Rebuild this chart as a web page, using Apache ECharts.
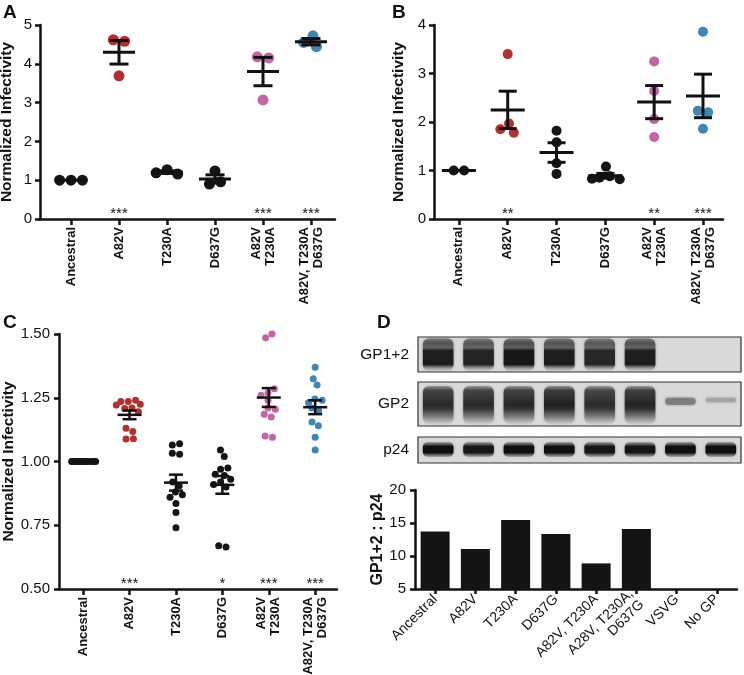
<!DOCTYPE html>
<html><head><meta charset="utf-8">
<script src="https://cdn.jsdelivr.net/npm/echarts@6/dist/echarts.min.js"></script>
<style>html,body{margin:0;padding:0;background:#fff}#c{width:744px;height:675px}</style>
</head><body><div id="c"></div>
<script>
// ---------- data ----------
const groupsABC = ['Ancestral', 'A82V', 'T230A', 'D637G', 'A82V\nT230A', 'A82V, T230A\nD637G'];
const groupColors = ['#151515', '#b3302e', '#151515', '#151515', '#c564a2', '#3f86b8'];

// Panel A
const aAncestral = [1.00, 1.00, 1.00];
const aA82V = [4.62, 4.58, 3.69];
const aT230A = [1.27, 1.16, 1.19];
const aD637G = [1.24, 0.90, 0.96];
const aA82VT230A = [4.18, 4.15, 3.07];
const aTriple = [4.72, 4.44, 4.55];
const starsA = ['', '***', '', '', '***', '***'];

// Panel B
const bAncestral = [1.00, 1.00];
const bA82V = [3.40, 1.97, 1.78, 1.85];
const bT230A = [1.82, 1.58, 1.15, 0.93];
const bD637G = [1.08, 0.88, 0.85, 0.82, 0.83];
const bA82VT230A = [3.25, 2.64, 2.06, 1.69];
const bTriple = [3.86, 2.23, 2.20, 1.86];
const starsB = ['', '**', '', '', '**', '***'];

// Panel C
const cAncestral = [1, 1, 1, 1, 1, 1, 1, 1, 1, 1, 1, 1];
const cA82V = [1.235, 1.24, 1.235, 1.225, 1.222, 1.21, 1.208, 1.195, 1.13, 1.118, 1.088, 1.089];
const cT230A = [1.065, 1.07, 1.032, 1.028, 0.92, 0.905, 0.88, 0.87, 0.86, 0.835, 0.80, 0.74];
const cD637G = [1.045, 1.02, 0.97, 0.975, 0.95, 0.945, 0.93, 0.92, 0.91, 0.90, 0.67, 0.665];
const cA82VT230A = [1.485, 1.50, 1.27, 1.285, 1.26, 1.24, 1.21, 1.205, 1.185, 1.175, 1.10, 1.095];
const cTriple = [1.37, 1.325, 1.30, 1.245, 1.24, 1.23, 1.21, 1.20, 1.155, 1.14, 1.095, 1.045];
const starsC = ['', '***', '', '*', '***', '***'];

// Panel D
const lanesD = ['Ancestral', 'A82V', 'T230A', 'D637G', 'A82V, T230A', 'A28V, T230A,\nD637G', 'VSVG', 'No GP'];
const ratioD = [13.73, 11.06, 15.45, 13.33, 8.88, 14.09, 0, 0];
const blotGP12 = [0.95, 0.9, 1.0, 0.95, 0.88, 0.95, 0, 0];
const blotGP2 = [0.92, 0.92, 0.94, 1.0, 0.9, 0.96, 0.4, 0.18];
const blotP24 = [1, 0.95, 1, 1, 0.95, 0.95, 1, 1];

const panelA = [aAncestral, aA82V, aT230A, aD637G, aA82VT230A, aTriple];
const panelB = [bAncestral, bA82V, bT230A, bD637G, bA82VT230A, bTriple];
const panelC = [cAncestral, cA82V, cT230A, cD637G, cA82VT230A, cTriple];

// ---------- helpers ----------
const FONT = 'Liberation Sans';
const INK = '#111';

function swarm(ys, d, maxHalf) {
  const xs = [];
  for (let i = 0; i < ys.length; i++) {
    const cands = [0];
    for (let j = 0; j < i; j++) {
      const dy = Math.abs(ys[i] - ys[j]);
      if (dy < d) { const dx = Math.sqrt(d * d - dy * dy); cands.push(xs[j] + dx + 0.01, xs[j] - dx - 0.01); }
    }
    cands.sort((a, b) => Math.abs(a) - Math.abs(b));
    let best = null;
    for (const c of cands) {
      if (Math.abs(c) > maxHalf) continue;
      let ok = true;
      for (let j = 0; j < i; j++) {
        const dx = c - xs[j], dy = ys[i] - ys[j];
        if (dx * dx + dy * dy < d * d - 0.1) { ok = false; break; }
      }
      if (ok) { best = c; break; }
    }
    if (best === null) {
      let bestScore = -1;
      for (let s = -maxHalf; s <= maxHalf + 1e-6; s += maxHalf / 6) {
        let m = Infinity;
        for (let j = 0; j < i; j++) { const dx = s - xs[j], dy = ys[i] - ys[j]; m = Math.min(m, dx * dx + dy * dy); }
        if (m > bestScore) { bestScore = m; best = s; }
      }
    }
    xs.push(best);
  }
  // centre touching clusters
  const n = ys.length, comp = new Array(n).fill(-1); let c = 0;
  for (let i = 0; i < n; i++) {
    if (comp[i] >= 0) continue;
    const st = [i]; comp[i] = c;
    while (st.length) {
      const a = st.pop();
      for (let b = 0; b < n; b++) {
        if (comp[b] < 0) {
          const dx = xs[a] - xs[b], dy = ys[a] - ys[b];
          if (dx * dx + dy * dy < d * d * 1.2) { comp[b] = c; st.push(b); }
        }
      }
    }
    c++;
  }
  for (let k = 0; k < c; k++) {
    const idx = []; for (let i = 0; i < n; i++) if (comp[i] === k) idx.push(i);
    const m = idx.reduce((s, i) => s + xs[i], 0) / idx.length;
    idx.forEach(i => { xs[i] -= m; });
  }
  return xs;
}

function meanSem(vals) {
  const n = vals.length, m = vals.reduce((a, b) => a + b, 0) / n;
  if (n < 2) return [m, 0];
  const v = vals.reduce((a, b) => a + (b - m) * (b - m), 0) / (n - 1);
  return [m, Math.sqrt(v / n)];
}

function pointSeries(groups, axisIdx, r, maxHalf) {
  const data = [];
  groups.forEach((vals, g) => vals.forEach((v, k) => data.push([g, v, k])));
  return {
    type: 'custom', xAxisIndex: axisIdx, yAxisIndex: axisIdx, data, z: 3,
    renderItem(params, api) {
      const g = api.value(0), k = api.value(2);
      const pts = groups[g].map(v => api.coord([g, v]));
      const offs = swarm(pts.map(p => p[1]), 2 * r + 0.4, maxHalf);
      const p = pts[k];
      return { type: 'circle', shape: { cx: p[0] + offs[k], cy: p[1], r }, style: { fill: groupColors[g] } };
    }
  };
}

function errSeries(groups, stars, axisIdx, yMin, halfMean, halfCap, lw) {
  return {
    type: 'custom', xAxisIndex: axisIdx, yAxisIndex: axisIdx, z: 5,
    data: groups.map((v, g) => [g, v.length]),
    renderItem(params, api) {
      const g = api.value(0);
      const [m, s] = meanSem(groups[g]);
      const pm = api.coord([g, m]), pt = api.coord([g, m + s]), pb = api.coord([g, m - s]);
      const base = api.coord([g, yMin]);
      const ls = { stroke: INK, lineWidth: lw };
      const ch = [
        { type: 'line', shape: { x1: pm[0] - halfMean, y1: pm[1], x2: pm[0] + halfMean, y2: pm[1] }, style: ls }
      ];
      if (s > 0) {
        ch.push({ type: 'line', shape: { x1: pt[0], y1: pt[1], x2: pb[0], y2: pb[1] }, style: ls });
        ch.push({ type: 'line', shape: { x1: pt[0] - halfCap, y1: pt[1], x2: pt[0] + halfCap, y2: pt[1] }, style: ls });
        ch.push({ type: 'line', shape: { x1: pb[0] - halfCap, y1: pb[1], x2: pb[0] + halfCap, y2: pb[1] }, style: ls });
      }
      if (stars[g]) {
        ch.push({ type: 'text', style: { text: stars[g], x: base[0], y: base[1] + 2, align: 'center', verticalAlign: 'bottom', fontSize: 15, fontFamily: FONT, fill: INK } });
      }
      return { type: 'group', children: ch };
    }
  };
}

function blotSeries(idx, intens, kind) {
  return {
    type: 'custom', xAxisIndex: idx, yAxisIndex: idx, z: 3,
    data: intens.map((v, i) => [i, v]),
    renderItem(params, api) {
      const i = api.value(0), v = api.value(1);
      if (!(v > 0)) return null;
      const cs = params.coordSys;
      const cx = api.coord([i, 0.5])[0];
      const w = api.size([1, 0])[0] * 0.76;
      const a = x => Math.max(0, Math.min(1, x * v));
      let y0, h, stops, r = 6;
      if (kind === 'gp12') {
        y0 = cs.y + 1.5; h = cs.height - 2.5;
        stops = [
          [0, 'rgba(95,95,95,' + a(0.75) + ')'], [0.15, 'rgba(70,70,70,' + a(0.9) + ')'],
          [0.28, 'rgba(90,90,90,' + a(0.9) + ')'], [0.37, 'rgba(25,25,25,' + a(1) + ')'],
          [0.8, 'rgba(22,22,22,' + a(1) + ')'], [0.9, 'rgba(110,110,110,' + a(0.6) + ')'],
          [1, 'rgba(190,190,190,' + a(0.2) + ')']];
      } else if (kind === 'gp2') {
        if (v < 0.5) {
          y0 = cs.y + cs.height * 0.36; h = cs.height * (v > 0.3 ? 0.16 : 0.1); r = 4;
          const c = v > 0.3 ? 'rgba(120,120,120,0.85)' : 'rgba(160,160,160,0.7)';
          stops = [[0, c], [1, c]];
        } else {
          y0 = cs.y + 4; h = cs.height - 6;
          stops = [
            [0, 'rgba(100,100,100,' + a(0.5) + ')'], [0.12, 'rgba(50,50,50,' + a(0.9) + ')'],
            [0.5, 'rgba(30,30,30,' + a(1) + ')'], [0.62, 'rgba(45,45,45,' + a(0.95) + ')'],
            [0.8, 'rgba(95,95,95,' + a(0.7) + ')'], [1, 'rgba(175,175,175,' + a(0.2) + ')']];
        }
      } else {
        y0 = cs.y + 5; h = 15; r = 5;
        stops = [
          [0, 'rgba(70,70,70,' + a(0.3) + ')'], [0.3, 'rgba(15,15,15,' + a(1) + ')'],
          [0.7, 'rgba(15,15,15,' + a(1) + ')'], [1, 'rgba(90,90,90,' + a(0.3) + ')']];
      }
      return {
        type: 'rect',
        shape: { x: cx - w / 2, y: y0, width: w, height: h, r },
        style: {
          fill: new echarts.graphic.LinearGradient(0, 0, 0, 1, stops.map(s => ({ offset: s[0], color: s[1] }))),
          shadowBlur: 3, shadowColor: 'rgba(0,0,0,0.35)'
        }
      };
    }
  };
}

// ---------- axes ----------
const axisLineStyle = { color: INK, width: 2.5 };
function catValueX(gridIndex, min, max) {
  const ticks = groupsABC.map((_, i) => i);
  return {
    type: 'value', gridIndex, min, max,
    axisLine: { show: true, onZero: false, lineStyle: axisLineStyle },
    splitLine: { show: false },
    axisTick: { show: true, customValues: ticks, length: 6, lineStyle: { color: INK, width: 2.5 } },
    axisLabel: {
      customValues: ticks, formatter: v => groupsABC[Math.round(v)], rotate: 90, margin: 8,
      fontSize: 13, fontWeight: 'bold', fontFamily: FONT, color: INK, lineHeight: 14
    }
  };
}
function valY(gridIndex, min, max, interval, fmt, nameGap, labelMargin) {
  return {
    type: 'value', gridIndex, min, max, interval,
    axisLine: { show: true, onZero: false, lineStyle: axisLineStyle },
    axisTick: { show: true, length: 5, lineStyle: { color: INK, width: 2.5 } },
    splitLine: { show: false },
    axisLabel: { fontSize: 15, fontFamily: FONT, color: INK, margin: labelMargin, formatter: fmt },
    name: 'Normalized Infectivity', nameLocation: 'middle', nameRotate: 90, nameGap,
    nameTextStyle: { fontSize: 15.5, fontWeight: 'bold', fontFamily: FONT, color: INK }
  };
}
function blotAxes(gridIndex, label) {
  return {
    x: { type: 'category', gridIndex, data: lanesD, show: false },
    y: {
      type: 'value', gridIndex, min: 0, max: 1, show: true,
      axisLine: { show: false }, axisTick: { show: false }, axisLabel: { show: false }, splitLine: { show: false },
      name: label, nameLocation: 'middle', nameRotate: 0, nameGap: 9,
      nameTextStyle: { fontSize: 15.5, fontFamily: FONT, color: INK }
    }
  };
}
const bl1 = blotAxes(3, 'GP1+2'), bl2 = blotAxes(4, 'GP2'), bl3 = blotAxes(5, 'p24');

const chart = echarts.init(document.getElementById('c'), null, { renderer: 'canvas' });
chart.setOption({
  animation: false,
  backgroundColor: '#fff',
  textStyle: { fontFamily: FONT, color: INK },
  title: [
    { text: 'A', left: 3, top: 3 }, { text: 'B', left: 392, top: 3 },
    { text: 'C', left: 3, top: 313 }, { text: 'D', left: 377, top: 313 }
  ].map(t => Object.assign(t, { padding: 0, textStyle: { fontSize: 19, fontWeight: 'bold', fontFamily: FONT, color: INK } })),
  grid: [
    { left: 40, top: 25, width: 295, height: 194, outerBoundsMode: 'none' },
    { left: 434, top: 25, width: 289, height: 194, outerBoundsMode: 'none' },
    { left: 59, top: 334, width: 278, height: 255, outerBoundsMode: 'none' },
    { left: 418, top: 337, width: 323, height: 35, show: true, backgroundColor: '#d9d9d9', borderColor: '#333', borderWidth: 1.2, outerBoundsMode: 'none' },
    { left: 418, top: 382, width: 323, height: 44, show: true, backgroundColor: '#d9d9d9', borderColor: '#333', borderWidth: 1.2, outerBoundsMode: 'none' },
    { left: 418, top: 437, width: 323, height: 26, show: true, backgroundColor: '#d9d9d9', borderColor: '#333', borderWidth: 1.2, outerBoundsMode: 'none' },
    { left: 415, top: 490, width: 322, height: 99, outerBoundsMode: 'none' }
  ],
  xAxis: [
    catValueX(0, -0.646, 5.5),
    catValueX(1, -0.51, 5.41),
    catValueX(2, -0.52, 5.47),
    bl1.x, bl2.x, bl3.x,
    {
      type: 'category', gridIndex: 6, data: lanesD,
      axisLine: { show: true, lineStyle: axisLineStyle },
      axisTick: { show: true, alignWithLabel: true, length: 5, lineStyle: { color: INK, width: 2.5 } },
      axisLabel: { rotate: 45, fontSize: 14, fontFamily: FONT, color: INK, margin: 8, interval: 0, lineHeight: 15 }
    }
  ],
  yAxis: [
    valY(0, 0, 5, 1, null, 25, 8),
    valY(1, 0, 4, 1, null, 27, 8),
    valY(2, 0.5, 1.5, 0.25, v => v.toFixed(2), 42, 9),
    bl1.y, bl2.y, bl3.y,
    {
      type: 'value', gridIndex: 6, min: 5, max: 20, interval: 5,
      axisLine: { show: true, onZero: false, lineStyle: axisLineStyle },
      axisTick: { show: true, length: 5, lineStyle: { color: INK, width: 2.5 } },
      splitLine: { show: false },
      axisLabel: { fontSize: 15, fontFamily: FONT, color: INK, margin: 9 },
      name: 'GP1+2 : p24', nameLocation: 'middle', nameRotate: 90, nameGap: 27,
      nameTextStyle: { fontSize: 16, fontWeight: 'bold', fontFamily: FONT, color: INK }
    }
  ],
  series: [
    pointSeries(panelA, 0, 5.5, 14),
    errSeries(panelA, starsA, 0, 0, 16, 9.5, 3),
    pointSeries(panelB, 1, 5, 14),
    errSeries(panelB, starsB, 1, 0, 17, 9, 3),
    pointSeries(panelC, 2, 3.5, 12),
    errSeries(panelC, starsC, 2, 0.5, 12, 7, 2.5),
    blotSeries(3, blotGP12, 'gp12'),
    blotSeries(4, blotGP2, 'gp2'),
    blotSeries(5, blotP24, 'p24'),
    {
      type: 'bar', xAxisIndex: 6, yAxisIndex: 6, data: ratioD, barWidth: 29,
      itemStyle: { color: '#141414' }, clip: true
    }
  ]
});
</script>
</body></html>
